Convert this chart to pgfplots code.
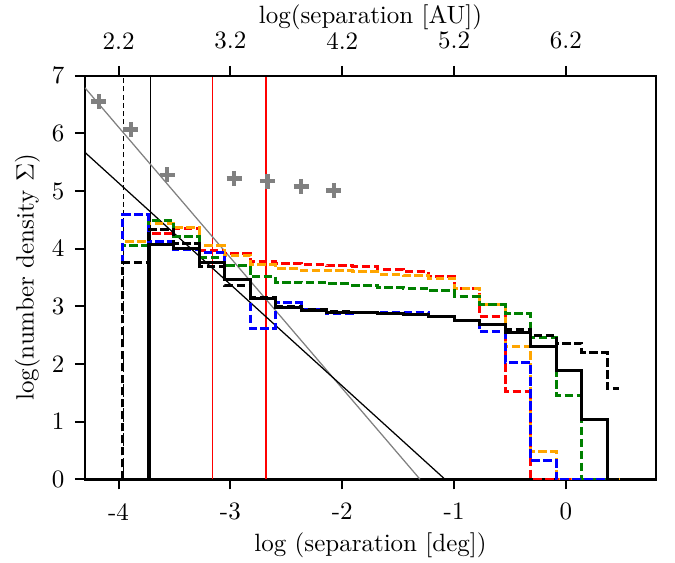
\documentclass[border=0pt]{standalone}
\usepackage{pgfplots}
\pgfplotsset{compat=1.18}
\definecolor{mplorange}{HTML}{FFA500}
\definecolor{mplgreen}{HTML}{008000}
\definecolor{mplgray}{HTML}{808080}
\pgfplotsset{
  hist/.style={const plot, line width=1.2pt, forget plot},
  dsh/.style={dash pattern=on 3.4pt off 1.4pt},
}
\begin{document}
\begin{tikzpicture}
\useasboundingbox (-34pt,-33.1pt) rectangle (236pt,191.7pt);
\begin{axis}[
  at={(0,0)}, anchor=south west,
  scale only axis, width=228.4pt, height=161.4pt,
  xmin=-4.30, xmax=0.805, ymin=0, ymax=7,
  xtick={-4,-3,-2,-1,0}, xticklabels={-4,-3,-2,-1,0},
  ytick={0,1,2,3,4,5,6,7},
  xtick pos=left, ytick pos=left,
  tick align=outside, major tick length=4pt,
  every tick/.style={black, line width=0.8pt},
  axis line style={line width=1pt},
  xticklabel style={yshift=-2pt},
  yticklabel style={xshift=-0.7pt},
  xlabel={log (separation [deg])},
  ylabel={log(number density $\Sigma$)},
  xlabel style={yshift=2pt},
  ylabel style={yshift=-2pt},
]
% reference lines
\addplot[black, line width=0.5pt, dash pattern=on 2pt off 1.3pt] coordinates {(-3.958,0) (-3.958,7)};
\addplot[black, line width=0.5pt] coordinates {(-3.713,0) (-3.713,7)};
\addplot[red, line width=0.5pt] coordinates {(-3.162,0) (-3.162,7)};
\addplot[red, line width=0.5pt] coordinates {(-2.682,0) (-2.682,7)};
\addplot[mplgray, line width=0.5pt] coordinates {(-4.30,6.79) (-1.305,0)};
\addplot[black, line width=0.5pt] coordinates {(-4.30,5.67) (-1.082,0)};
% red
\addplot[hist, red, dsh] coordinates {
  (-3.964,0) (-3.736,4.27) (-3.508,4.35) (-3.280,3.97) (-3.052,3.91)
  (-2.824,3.78) (-2.596,3.75) (-2.368,3.72) (-2.140,3.70) (-1.912,3.69)
  (-1.684,3.64) (-1.456,3.60) (-1.228,3.51) (-1.000,3.31) (-0.772,2.82)
  (-0.544,1.52) (-0.316,0) (0.478,0)};
% orange
\addplot[hist, mplorange, dsh] coordinates {
  (-3.964,0) (-3.964,4.12) (-3.736,4.44) (-3.508,4.36) (-3.280,4.05) (-3.052,3.89)
  (-2.824,3.72) (-2.596,3.65) (-2.368,3.63) (-2.140,3.62) (-1.912,3.60)
  (-1.684,3.56) (-1.456,3.53) (-1.228,3.49) (-1.000,3.31) (-0.772,3.04)
  (-0.544,2.31) (-0.316,0.48) (-0.088,0) (0.478,0)};
% green
\addplot[hist, mplgreen, dsh] coordinates {
  (-3.964,0) (-3.964,4.05) (-3.736,4.49) (-3.508,4.22) (-3.280,3.85) (-3.052,3.70)
  (-2.824,3.52) (-2.596,3.42) (-2.368,3.41) (-2.140,3.39) (-1.912,3.37)
  (-1.684,3.32) (-1.456,3.31) (-1.228,3.27) (-1.000,3.17) (-0.772,3.04)
  (-0.544,2.87) (-0.316,2.46) (-0.088,1.45) (0.140,0) (0.478,0)};
% blue
\addplot[hist, blue, dsh] coordinates {
  (-3.964,0) (-3.964,4.59) (-3.736,4.13) (-3.508,3.98) (-3.280,3.93) (-3.052,3.47)
  (-2.824,2.62) (-2.596,3.06) (-2.368,2.95) (-2.140,2.88) (-1.912,2.89)
  (-1.684,2.90) (-1.456,2.90) (-1.228,2.83) (-1.000,2.75) (-0.772,2.56)
  (-0.544,2.03) (-0.316,0.33) (-0.088,0) (0.478,0)};
% black dashed
\addplot[hist, black, dsh] coordinates {
  (-3.964,0) (-3.964,3.76) (-3.736,4.34) (-3.508,4.09) (-3.280,3.69) (-3.052,3.37)
  (-2.824,3.15) (-2.596,2.99) (-2.368,2.94) (-2.140,2.91) (-1.912,2.90)
  (-1.684,2.87) (-1.456,2.86) (-1.228,2.82) (-1.000,2.76) (-0.772,2.68)
  (-0.544,2.59) (-0.316,2.49) (-0.088,2.36) (0.140,2.20) (0.368,1.57) (0.478,1.57)};
% black solid
\addplot[hist, black] coordinates {
  (-3.964,0) (-3.736,4.07) (-3.508,4.00) (-3.280,3.76) (-3.052,3.47)
  (-2.824,3.14) (-2.596,2.98) (-2.368,2.93) (-2.140,2.90) (-1.912,2.89)
  (-1.684,2.87) (-1.456,2.85) (-1.228,2.82) (-1.000,2.75) (-0.772,2.69)
  (-0.544,2.54) (-0.316,2.30) (-0.088,1.88) (0.140,1.03) (0.368,0) (0.478,0)};
% gray markers
\addplot[only marks, mark=+, mark size=3pt, line width=1.8pt, mplgray] coordinates {
  (-4.175,6.55) (-3.889,6.07) (-3.565,5.28) (-2.966,5.22) (-2.670,5.17)
  (-2.367,5.08) (-2.074,5.01)};
\end{axis}
\begin{axis}[
  at={(0,0)}, anchor=south west,
  scale only axis, width=228.4pt, height=161.4pt,
  xmin=1.90, xmax=7.005, ymin=0, ymax=7,
  axis x line*=top, axis y line=none,
  xtick={2.2,3.2,4.2,5.2,6.2}, xticklabels={2.2,3.2,4.2,5.2,6.2},
  tick align=outside, major tick length=4pt,
  every tick/.style={black, line width=0.8pt},
  axis line style={line width=1pt, -},
  xticklabel style={yshift=3pt},
  xlabel={log(separation [AU])},
  xlabel style={yshift=-6pt},
]
\addplot[draw=none] coordinates {(2,1)};
\end{axis}
\end{tikzpicture}
\end{document}
